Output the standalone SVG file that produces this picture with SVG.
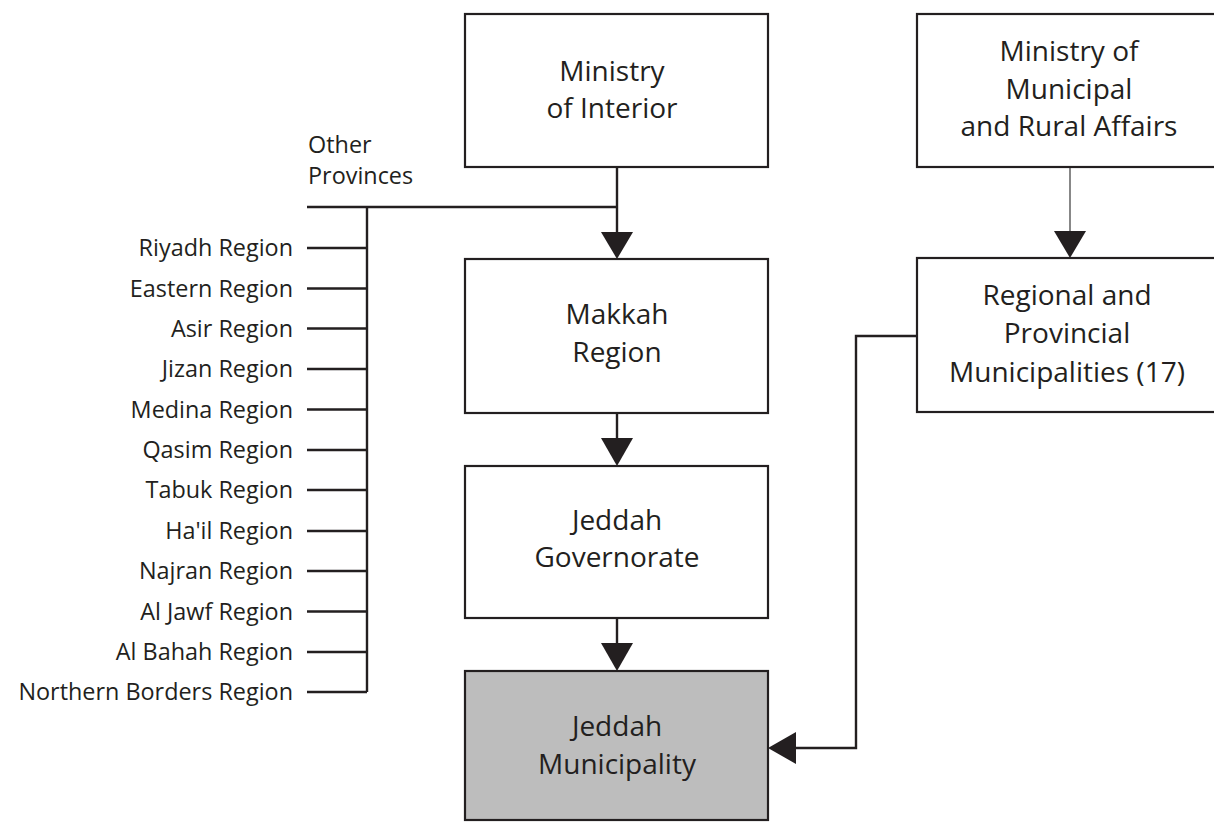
<svg xmlns="http://www.w3.org/2000/svg" width="1214" height="822" viewBox="0 0 1214 822">
  <style>
    .box { fill: #ffffff; stroke: #231f20; stroke-width: 2.2; }
    .box.hl { fill: #bdbdbd; }
    .lbl { font-family: "Open Sans", "Noto Sans", sans-serif; font-size: 28px; fill: #231f20; text-anchor: middle; }
    .reg { font-family: "Open Sans", "Noto Sans", sans-serif; font-size: 23.4px; fill: #231f20; text-anchor: end; }
    .oth { font-family: "Open Sans", "Noto Sans", sans-serif; font-size: 23.4px; fill: #231f20; }
    .ln { fill: none; stroke: #231f20; stroke-width: 2.4; }
    .thin { fill: none; stroke: #555555; stroke-width: 1.4; }
    .head { fill: #231f20; }
  </style>
  <rect width="1214" height="822" fill="#ffffff"/>

  <!-- connectors -->
  <g id="connectors">
    <!-- Ministry of Interior to Makkah Region, with the Other Provinces branch -->
    <path class="ln" d="M617 167 V236"/>
    <path class="ln" d="M307 207 H617"/>
    <polygon class="head" points="601,232 633,232 617,259"/>
    <!-- Other Provinces spine -->
    <path class="ln" d="M367 207 V692"/>
    <path class="ln" d="M307 248 H367 M307 288.5 H367 M307 328.5 H367 M307 369 H367 M307 409.5 H367 M307 450 H367 M307 490 H367 M307 531 H367 M307 571 H367 M307 611.5 H367 M307 652 H367 M307 692 H367"/>
    <!-- Makkah Region to Jeddah Governorate -->
    <path class="ln" d="M617 413 V442"/>
    <polygon class="head" points="601,438 633,438 617,466"/>
    <!-- Jeddah Governorate to Jeddah Municipality -->
    <path class="ln" d="M617 618 V646"/>
    <polygon class="head" points="601,643 633,643 617,671"/>
    <!-- Ministry of Municipal and Rural Affairs to Regional and Provincial Municipalities -->
    <path class="thin" d="M1070 167 V234"/>
    <polygon class="head" points="1054,231 1086,231 1070,258"/>
    <!-- Regional and Provincial Municipalities to Jeddah Municipality -->
    <path class="ln" d="M917 336 H856 V748 H792"/>
    <polygon class="head" points="796,732 796,764 768,748"/>
  </g>

  <g id="other-provinces">
    <text class="oth" x="308" y="153">Other</text>
    <text class="oth" x="308" y="184">Provinces</text>
  </g>

  <g id="regions">
    <text class="reg" x="293" y="256">Riyadh Region</text>
    <text class="reg" x="293" y="296.5">Eastern Region</text>
    <text class="reg" x="293" y="336.5">Asir Region</text>
    <text class="reg" x="293" y="377">Jizan Region</text>
    <text class="reg" x="293" y="417.5">Medina Region</text>
    <text class="reg" x="293" y="458">Qasim Region</text>
    <text class="reg" x="293" y="498">Tabuk Region</text>
    <text class="reg" x="293" y="539">Ha'il Region</text>
    <text class="reg" x="293" y="579">Najran Region</text>
    <text class="reg" x="293" y="619.5">Al Jawf Region</text>
    <text class="reg" x="293" y="660">Al Bahah Region</text>
    <text class="reg" x="293" y="700">Northern Borders Region</text>
  </g>

  <g id="ministry-interior">
    <rect class="box" x="465" y="14" width="303" height="153"/>
    <text class="lbl" x="612" y="81">Ministry</text>
    <text class="lbl" x="612" y="118">of Interior</text>
  </g>

  <g id="ministry-municipal">
    <rect class="box" x="917" y="14" width="306" height="153"/>
    <text class="lbl" x="1069" y="61">Ministry of</text>
    <text class="lbl" x="1069" y="99">Municipal</text>
    <text class="lbl" x="1069" y="136">and Rural Affairs</text>
  </g>

  <g id="makkah-region">
    <rect class="box" x="465" y="259" width="303" height="154"/>
    <text class="lbl" x="617" y="324">Makkah</text>
    <text class="lbl" x="617" y="362">Region</text>
  </g>

  <g id="regional-municipalities">
    <rect class="box" x="917" y="258" width="306" height="154"/>
    <text class="lbl" x="1067" y="305">Regional and</text>
    <text class="lbl" x="1067" y="343">Provincial</text>
    <text class="lbl" x="1067" y="382">Municipalities (17)</text>
  </g>

  <g id="jeddah-governorate">
    <rect class="box" x="465" y="466" width="303" height="152"/>
    <text class="lbl" x="617" y="530">Jeddah</text>
    <text class="lbl" x="617" y="567">Governorate</text>
  </g>

  <g id="jeddah-municipality">
    <rect class="box hl" x="465" y="671" width="303" height="149"/>
    <text class="lbl" x="617" y="736">Jeddah</text>
    <text class="lbl" x="617" y="774">Municipality</text>
  </g>
</svg>
